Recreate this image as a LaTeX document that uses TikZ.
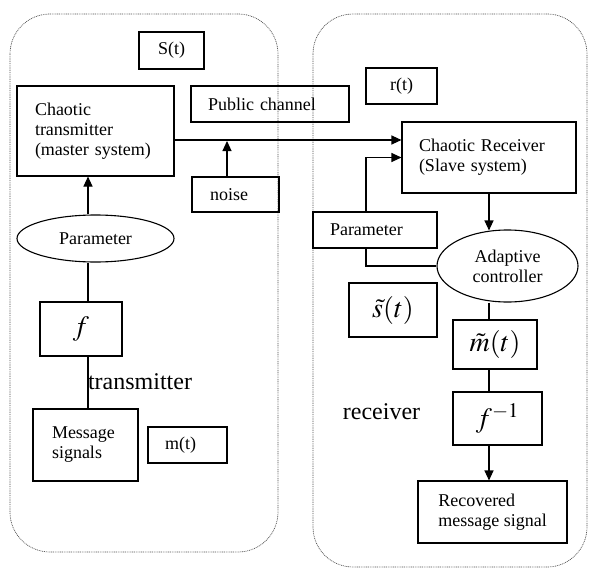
\documentclass[tikz,border=0pt]{standalone}
\usepackage{mathptmx}
\usepackage[no-math]{fontspec}
\setmainfont{Liberation Serif}
\usetikzlibrary{arrows.meta,shapes.geometric}

\begin{document}
\begin{tikzpicture}[x=1pt, y=-1pt, line width=1.1pt,
  every node/.style={font=\fontsize{18}{20}\selectfont, align=left},
  box/.style={draw, rectangle, inner sep=0pt},
  oval/.style={draw, ellipse, inner sep=0pt, align=center},
  zone/.style={draw=black!70, line width=0.7pt, dash pattern=on 0.9pt off 0.9pt, rounded corners=40pt},
  arr/.style={-{Triangle[length=10pt,width=9pt]}},
  big/.style={font=\fontsize{24}{26}\selectfont},
  mth/.style={font=\fontsize{28}{30}\selectfont}]
\useasboundingbox (0,0) rectangle (589,570);
\draw[zone] (10,14) rectangle (278,552);
\draw[zone] (313,14) rectangle (587,567);

\node[box, minimum width=65pt, minimum height=37pt] (st) at (171.5,50.5) {S(t)};
\node[box, minimum width=157pt, minimum height=90pt, text width=121pt] (tx) at (95.5,131) {Chaotic\\transmitter\\(master system)};
\node[box, minimum width=158pt, minimum height=36pt, text width=124pt] (pub) at (270,104) {Public channel};
\node[box, minimum width=87pt, minimum height=35pt, text width=51pt] (noise) at (235.5,194.5) {noise};
\node[oval, minimum width=157pt, minimum height=47pt] (par1) at (95.5,238.5) {Parameter};
\node[box, mth, minimum width=82pt, minimum height=54pt] (fbox) at (81,329) {$f$};
\node[box, minimum width=105pt, minimum height=72pt, text width=67pt] (msg) at (85.5,445) {Message\\signals};
\node[box, minimum width=79pt, minimum height=36pt, text width=45pt] (mt) at (187.5,445) {m(t)};
\node[big] (txlab) at (140,382) {transmitter};

\node[box, minimum width=71pt, minimum height=36pt] (rt) at (401.5,86) {r(t)};
\node[box, minimum width=174pt, minimum height=71pt, text width=140pt] (rx) at (489,157.5) {Chaotic Receiver\\(Slave system)};
\node[box, minimum width=124pt, minimum height=36pt, text width=90pt] (par2) at (375,230) {Parameter};
\node[oval, minimum width=141pt, minimum height=72pt] (ac) at (507.5,266) {Adaptive\\controller};
\node[box, mth, minimum width=88pt, minimum height=54pt] (stil) at (393,310) {$\tilde{s}(t)$};
\node[box, mth, minimum width=84pt, minimum height=49pt] (mtil) at (495,344.5) {$\tilde{m}(t)$};
\node[box, mth, minimum width=89pt, minimum height=53pt] (finv) at (497.5,418.5) {$f^{-1}$};
\node[box, minimum width=149pt, minimum height=62pt, align=left] (rec) at (492.5,512) {Recovered\\message signal};
\node[big] (rxlab) at (381.5,412) {receiver};

\coordinate (tv) at (88,0);
\coordinate (rv) at (489,0);
\coordinate (nz) at (227,141);

\draw[arr] ([yshift=-9pt]tx.east) -- ([yshift=-9pt]tx.east -| rx.west);
\draw[arr] (noise.north -| nz) -- (nz);
\draw[arr] (par1.north -| tv) -- (tx.south -| tv);
\draw (par1.south -| tv) -- (fbox.north -| tv);
\draw (fbox.south -| tv) -- (msg.north -| tv);
\draw[arr] ([xshift=-9pt]par2.north) |- (rx.west);
\draw ([xshift=-9pt]par2.south) |- (ac.west);
\draw[arr] (rx.south -| rv) -- ([yshift=-1pt]ac.north -| rv);
\draw (ac.south -| rv) -- (mtil.north -| rv);
\draw (mtil.south -| rv) -- (finv.north -| rv);
\draw[arr] (finv.south -| rv) -- (rec.north -| rv);
\end{tikzpicture}
\end{document}
